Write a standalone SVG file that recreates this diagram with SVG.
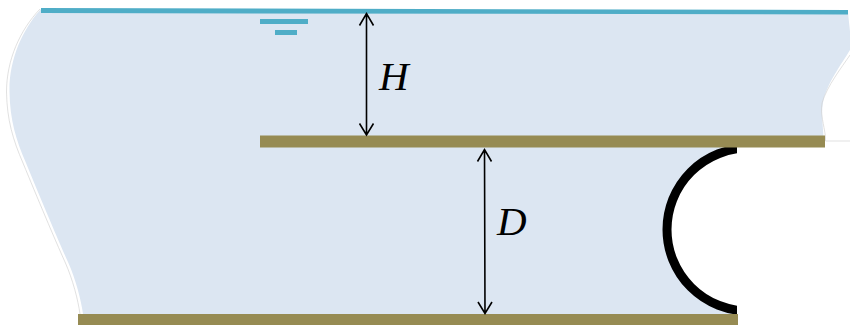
<svg xmlns="http://www.w3.org/2000/svg" width="850" height="325" viewBox="0 0 850 325">
<defs><clipPath id="culvert-clip"><rect x="600" y="140" width="137" height="180"/></clipPath></defs>
<style>
.water{fill:#dce6f2}
.edge{fill:none;stroke:#d4d4d4;stroke-width:.7}
.surface{fill:#4fadc7}
.plate{fill:#968b53}
.dim{fill:none;stroke:#000;stroke-width:1.6}
.lbl{font-family:"Liberation Serif",serif;font-style:italic;font-size:41px;fill:#000}
</style>
<rect width="850" height="325" fill="#fff"/>
<g id="water-body">
<path class="water" d="M41 9L848 12C849 25 852 42 850 50C843 62 826 84 823 103C821 114 823 126 823.500 137L737 147L737 314L83 314C81 300 76 280 68 262C58 240 40 197 26 163C16 140 10 120 9.500 92C9 60 22 30 41 9Z"/>
<path class="edge" d="M40 9C20 30 6.500 60 6.500 92C7 120 13 140 23 163C37 197 55 240 65 262C73 280 78 300 80 314"/>
<path class="edge" d="M850 55C842 67 827 86 822 103C820 114 824 124 825.500 137V141H850"/>
</g>
<g id="water-surface">
<polygon class="surface" points="41,8 848,10 848,14.500 41,13"/>
<rect class="surface" x="260" y="19" width="48" height="5"/>
<rect class="surface" x="275" y="30" width="22" height="5"/>
</g>
<g id="culvert"><circle cx="748.500" cy="229.500" r="81.500" fill="#fff" stroke="#000" stroke-width="9" clip-path="url(#culvert-clip)"/></g>
<g id="upper-plate"><rect class="plate" x="260" y="135.500" width="565" height="12"/></g>
<g id="lower-plate"><rect class="plate" x="78" y="314" width="660" height="11"/></g>
<g id="connectors">
<path class="dim" d="M366.500 13V135M359.500 25.500L366.500 13.500L373.500 25.500M359.500 123.500L366.500 135L373.500 123.500"/>
<path class="dim" d="M484.500 149L485 314M477.500 161.500L484.500 149.500L491.500 161.500M478 302L485 313.500L492 302"/>
</g>
<g id="label-H"><text class="lbl" x="379" y="90">H</text></g>
<g id="label-D"><text class="lbl" x="497" y="235">D</text></g>
</svg>
